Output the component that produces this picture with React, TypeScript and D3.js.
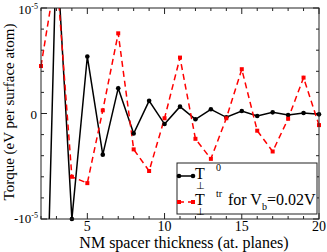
import React, { useEffect, useRef } from "react";
import * as d3 from "d3";

// NM spacer thickness (atomic planes)
const thickness = [2, 3, 4, 5, 6, 7, 8, 9, 10, 11, 12, 13, 14, 15, 16, 17, 18, 19, 20];
// torque in units of 1e-5 eV per surface atom
const torqueEq = [-4.0, 1.6, -1.0, 0.54, -0.39, 0.24, -0.19, 0.12, -0.1, 0.065, -0.055, 0.04, -0.036, 0.024, -0.024, 0.011, -0.014, 0.005, -0.008];
const torqueTr = [0.45, 1.35, -0.6, -0.66, 0.03, 0.76, -0.34, -0.545, -0.045, 0.53, -0.24, -0.43, -0.045, 0.42, -0.163, -0.36, -0.05, 0.34, -0.11];
const xMajor = [5, 10, 15, 20];
const yMajor = [-1, 0, 1];

const W = 327;
const H = 252;
const FONT = "'Liberation Serif', 'Times New Roman', serif";

const App: React.FC = () => {
  const svgRef = useRef<SVGSVGElement | null>(null);

  useEffect(() => {
    if (!svgRef.current) return;
    const svg = d3.select(svgRef.current);
    svg.selectAll("*").remove();

    const m = { left: 41, right: 8, top: 8, bottom: 33 };
    const iw = W - m.left - m.right;
    const ih = H - m.top - m.bottom;

    const x = d3.scaleLinear().domain([2, 20]).range([0, iw]);
    const y = d3.scaleLinear().domain([-1, 1]).range([ih, 0]);

    const g = svg.append("g").attr("transform", `translate(${m.left},${m.top})`);

    svg
      .append("defs")
      .append("clipPath")
      .attr("id", "plot-clip")
      .append("rect")
      .attr("width", iw)
      .attr("height", ih);

    // ticks (inside, on all four sides)
    const xMinor = d3.range(2, 21, 1).filter((v) => !xMajor.includes(v));
    const yMinor = d3.range(-1, 1.001, 0.2).map((v) => +v.toFixed(2)).filter((v) => !yMajor.includes(v));
    const tickG = g.append("g").attr("stroke", "#222").attr("stroke-width", 1);
    const xt = [...xMajor.map((v) => [v, 6]), ...xMinor.map((v) => [v, 3])];
    xt.forEach(([v, len]) => {
      tickG.append("line").attr("x1", x(v)).attr("x2", x(v)).attr("y1", ih).attr("y2", ih - len);
      tickG.append("line").attr("x1", x(v)).attr("x2", x(v)).attr("y1", 0).attr("y2", len);
    });
    const yt = [...yMajor.map((v) => [v, 6]), ...yMinor.map((v) => [v, 3])];
    yt.forEach(([v, len]) => {
      tickG.append("line").attr("y1", y(v)).attr("y2", y(v)).attr("x1", 0).attr("x2", len);
      tickG.append("line").attr("y1", y(v)).attr("y2", y(v)).attr("x1", iw).attr("x2", iw - len);
    });

    // series
    const pts = (vals: number[]) => thickness.map((t, i) => [t, vals[i]] as [number, number]);
    const line = d3
      .line<[number, number]>()
      .x((d) => x(d[0]))
      .y((d) => y(d[1]));

    const plot = g.append("g").attr("clip-path", "url(#plot-clip)");
    plot
      .append("path")
      .attr("d", line(pts(torqueEq)))
      .attr("fill", "none")
      .attr("stroke", "#000")
      .attr("stroke-width", 1.5);
    plot
      .append("path")
      .attr("d", line(pts(torqueTr)))
      .attr("fill", "none")
      .attr("stroke", "#ff0000")
      .attr("stroke-width", 1.5)
      .attr("stroke-dasharray", "6,4");

    const inside = (d: [number, number]) => d[1] >= -1.001 && d[1] <= 1.001;
    g.append("g")
      .selectAll("circle")
      .data(pts(torqueEq).filter(inside))
      .enter()
      .append("circle")
      .attr("cx", (d) => x(d[0]))
      .attr("cy", (d) => y(d[1]))
      .attr("r", 2.3)
      .attr("fill", "#000");
    g.append("g")
      .selectAll("rect")
      .data(pts(torqueTr).filter(inside))
      .enter()
      .append("rect")
      .attr("x", (d) => x(d[0]) - 2)
      .attr("y", (d) => y(d[1]) - 2)
      .attr("width", 4)
      .attr("height", 4)
      .attr("fill", "#ff0000");

    // frame
    g.append("rect")
      .attr("width", iw)
      .attr("height", ih)
      .attr("fill", "none")
      .attr("stroke", "#222")
      .attr("stroke-width", 1);

    // tick labels
    g.append("g")
      .selectAll("text")
      .data(xMajor)
      .enter()
      .append("text")
      .attr("x", (d) => x(d))
      .attr("y", ih + 12)
      .attr("text-anchor", "middle")
      .style("font-family", FONT)
      .style("font-size", "14px")
      .text((d) => String(d));

    const yLab = g.append("g").style("font-family", FONT).style("font-size", "13px").attr("text-anchor", "end");
    yMajor.forEach((v) => {
      if (v === 0) {
        yLab.append("text").attr("x", -4).attr("y", y(v) + 5).text("0");
      } else {
        const t = yLab.append("text").attr("x", -3).attr("y", y(v) + (v > 0 ? 6 : 4));
        t.append("tspan").text(v < 0 ? "-10" : "10");
        t.append("tspan").attr("dy", -5).style("font-size", "8px").text("-5");
      }
    });

    // axis titles
    svg
      .append("text")
      .attr("x", 184)
      .attr("y", H - 4)
      .attr("text-anchor", "middle")
      .style("font-family", FONT)
      .style("font-size", "16px")
      .text("NM spacer thickness (at. planes)");
    svg
      .append("text")
      .attr("transform", `translate(14,112) rotate(-90)`)
      .attr("text-anchor", "middle")
      .style("font-family", FONT)
      .style("font-size", "15px")
      .text("Torque (eV per surface atom)");

    // legend
    const lg = svg.append("g").attr("transform", "translate(177,163)");
    lg.append("rect")
      .attr("width", 140)
      .attr("height", 51)
      .attr("fill", "#fff")
      .attr("stroke", "#222")
      .attr("stroke-width", 1);
    const r1 = 13;
    const r2 = 39;
    lg.append("line").attr("x1", 2).attr("x2", 16).attr("y1", r1).attr("y2", r1).attr("stroke", "#000").attr("stroke-width", 1.5);
    [2, 16].forEach((cx) => lg.append("circle").attr("cx", cx).attr("cy", r1).attr("r", 2.3).attr("fill", "#000"));
    lg.append("line")
      .attr("x1", 2)
      .attr("x2", 16)
      .attr("y1", r2)
      .attr("y2", r2)
      .attr("stroke", "#ff0000")
      .attr("stroke-width", 1.5)
      .attr("stroke-dasharray", "5,4");
    [2, 16].forEach((cx) =>
      lg.append("rect").attr("x", cx - 2).attr("y", r2 - 2).attr("width", 4).attr("height", 4).attr("fill", "#ff0000")
    );

    const addEntry = (yy: number, sup: string, rest: boolean) => {
      const base = lg.append("g").style("font-family", FONT);
      base.append("text").attr("x", 18).attr("y", yy + 3).style("font-size", "16px").text("T");
      base.append("text").attr("x", 19).attr("y", yy + 13).style("font-size", "10px").text("\u22a5");
      base.append("text").attr("x", 39).attr("y", yy - 5).style("font-size", "10px").text(sup);
      if (rest) {
        const t = base.append("text").attr("x", 51).attr("y", yy + 3).style("font-size", "16px");
        t.append("tspan").text("for V");
        t.append("tspan").attr("dy", 5).style("font-size", "10px").text("b");
        t.append("tspan").attr("dy", -5).text("=0.02V");
      }
    };
    addEntry(r1, "0", false);
    addEntry(r2, "tr", true);
  }, []);

  return (
    <svg
      ref={svgRef}
      width={W}
      height={H}
      style={{ position: "fixed", left: 0, top: 0, background: "#fff" }}
    />
  );
};

export default App;
